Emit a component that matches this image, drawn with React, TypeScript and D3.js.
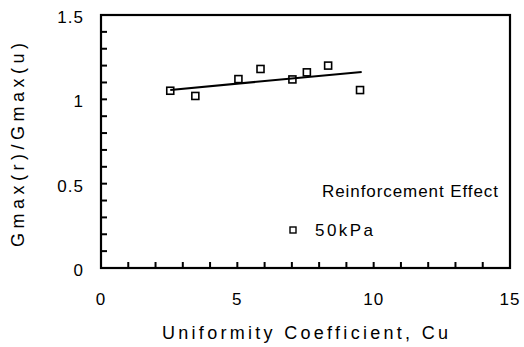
import React from "react";
import * as d3 from "d3";

const cuValues = [2.54, 3.46, 5.04, 5.85, 7.02, 7.55, 8.33, 9.5];
const ratioValues = [1.051, 1.02, 1.12, 1.18, 1.118, 1.16, 1.2, 1.055];
const fitX = [2.54, 9.56];
const fitY = [1.056, 1.162];
const xTickLabels = [0, 5, 10, 15];
const yTickLabels = [0, 0.5, 1, 1.5];
const legendTitle = "Reinforcement Effect";
const seriesName = "50kPa";
const xTitle = "Uniformity Coefficient, Cu";
const yTitle = "Gmax(r)/Gmax(u)";

export default function App() {
  const W = 524, H = 347;
  const left = 101, right = 510, top = 15, bottom = 268;
  const x = d3.scaleLinear().domain([0, 15]).range([left, right]);
  const y = d3.scaleLinear().domain([0, 1.5]).range([bottom, top]);
  const xMinor = d3.range(1, 15, 1);
  const yMinor = d3.range(1, 15, 1).map((v) => v / 10);
  const line = d3.line<number>().x((d, i) => x(fitX[i])).y((d, i) => y(fitY[i]));
  const font = "'Liberation Sans', Arial, Helvetica, sans-serif";
  const fmtY = (v: number) => String(v);
  const ms = 7;
  return (
    <svg width={W} height={H} style={{ position: "absolute", left: 0, top: 0, background: "#fff" }} fontFamily={font}>
      <rect x={0} y={0} width={W} height={H} fill="#fff" />
      {yMinor.map((v) => (
        <line key={"ym" + v} x1={left} x2={left + 6} y1={y(v)} y2={y(v)} stroke="#000" strokeWidth={2} />
      ))}
      {xMinor.map((v) => (
        <line key={"xm" + v} x1={x(v)} x2={x(v)} y1={bottom} y2={bottom - 6} stroke="#000" strokeWidth={2} />
      ))}
      <rect x={left} y={top} width={right - left} height={bottom - top} fill="none" stroke="#000" strokeWidth={2.2} />
      {yTickLabels.map((v) => (
        <text key={"yl" + v} x={84} y={y(v) + 8} textAnchor="end" fontSize={17} letterSpacing={1} fill="#000">
          {fmtY(v)}
        </text>
      ))}
      {xTickLabels.map((v) => (
        <text key={"xl" + v} x={x(v)} y={305} textAnchor="middle" fontSize={17} letterSpacing={1} fill="#000">
          {v}
        </text>
      ))}
      <text x={162} y={339} fontSize={18} textLength={286} lengthAdjust="spacing" fill="#000">
        {xTitle}
      </text>
      <text transform={`translate(24, 145) rotate(-90)`} x={0} y={0} textAnchor="middle" fontSize={18} textLength={204} lengthAdjust="spacing" fill="#000">
        {yTitle}
      </text>
      <path d={line(fitX) || ""} fill="none" stroke="#000" strokeWidth={2} />
      {cuValues.map((c, i) => (
        <rect key={"p" + i} x={x(c) - ms / 2} y={y(ratioValues[i]) - ms / 2} width={ms} height={ms} fill="none" stroke="#000" strokeWidth={1.6} />
      ))}
      <text x={322} y={197} fontSize={17} textLength={176} lengthAdjust="spacing" fill="#000">
        {legendTitle}
      </text>
      <rect x={293 - 3} y={230 - 3} width={6} height={6} fill="none" stroke="#000" strokeWidth={1.4} />
      <text x={315} y={236} fontSize={17} textLength={58} lengthAdjust="spacing" fill="#000">
        {seriesName}
      </text>
    </svg>
  );
}
